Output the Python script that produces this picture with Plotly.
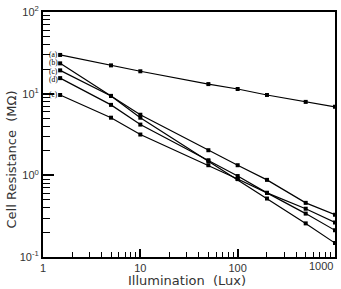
import math
import plotly.graph_objects as go

lux = [1.5, 5, 10, 50, 100, 200, 500, 1000]
series_names = ["(a)", "(b)", "(c)", "(d)", "(e)"]
res_a = [29.8, 22.2, 18.8, 13.1, 11.4, 9.64, 7.93, 6.9]
res_b = [23.5, 9.38, 5.08, 1.49, 0.90, 0.52, 0.258, 0.148]
res_c = [19.3, 9.38, 5.52, 2.03, 1.33, 0.88, 0.46, 0.33]
res_d = [15.5, 7.29, 4.18, 1.53, 0.98, 0.61, 0.34, 0.212]
res_e = [9.64, 5.08, 3.16, 1.33, 0.90, 0.61, 0.39, 0.265]
all_series = [res_a, res_b, res_c, res_d, res_e]
label_yshift = [0, 1, -1, -1, 0]

x_tick_vals = [1, 10, 100]
x_tick_text = ["1", "10", "100"]
x_last_tick = "1000"
y_tick_vals = [0.1, 1, 10, 100]
y_tick_text = ["10<sup>-1</sup>", "10<sup>0</sup>", "10<sup>1</sup>", "10<sup>2</sup>"]
x_title = "Illumination  (Lux)"
y_title = "Cell Resistance  (MΩ)"

fig = go.Figure()
for name, vals, ys in zip(series_names, all_series, label_yshift):
    fig.add_trace(go.Scatter(
        x=lux, y=vals, mode="lines+markers", name=name,
        line=dict(color="black", width=1.2),
        marker=dict(symbol="square", size=4, color="black"),
        showlegend=False,
    ))
    fig.add_annotation(x=math.log10(lux[0]), y=math.log10(vals[0]), xref="x", yref="y",
                       text=name, showarrow=False, xanchor="right", xshift=-1, yshift=ys,
                       borderpad=0,
                       font=dict(family="Liberation Serif", size=7.5, color="black"))

minor_x = [m * d for d in (1, 10, 100) for m in range(2, 10)]
minor_y = [m * d for d in (0.1, 1, 10) for m in range(2, 10)]

fig.update_xaxes(
    type="log", range=[0, 3], showgrid=False, zeroline=False,
    showline=True, linecolor="black", linewidth=2, mirror=True,
    ticks="inside", ticklen=8, tickwidth=1.5, tickcolor="black",
    tickvals=x_tick_vals, ticktext=x_tick_text,
    tickfont=dict(family="Liberation Sans", size=11, color="#333"),
    minor=dict(tickvals=minor_x, ticks="inside", ticklen=5, tickwidth=1.2, tickcolor="black"),
)
fig.update_yaxes(
    type="log", range=[-1, 2], showgrid=False, zeroline=False,
    showline=True, linecolor="black", linewidth=2, mirror=True,
    ticks="inside", ticklen=11, tickwidth=1.5, tickcolor="black",
    tickvals=y_tick_vals, ticktext=y_tick_text,
    tickfont=dict(family="Liberation Sans", size=11, color="#333"),
    minor=dict(tickvals=minor_y, ticks="inside", ticklen=7, tickwidth=1.2, tickcolor="black"),
)
fig.add_annotation(x=3, y=-1, xref="x", yref="y", text=x_last_tick, showarrow=False,
                   xanchor="right", yanchor="top", yshift=-1,
                   font=dict(family="Liberation Sans", size=11, color="#333"))
fig.add_annotation(x=0.5, y=0, xref="paper", yref="paper", text=x_title, showarrow=False,
                   xanchor="center", yanchor="top", xshift=-2, yshift=-14,
                   font=dict(family="DejaVu Sans", size=13, color="#333"))
fig.add_annotation(x=0, y=0.5, xref="paper", yref="paper", text=y_title, showarrow=False,
                   textangle=-90, xanchor="center", yanchor="middle", xshift=-32, yshift=-25,
                   font=dict(family="DejaVu Sans", size=13, color="#333"))

fig.update_layout(
    width=341, height=289,
    margin=dict(l=43, r=4, t=9, b=32),
    paper_bgcolor="white", plot_bgcolor="white",
)
fig.write_html("out.html")
